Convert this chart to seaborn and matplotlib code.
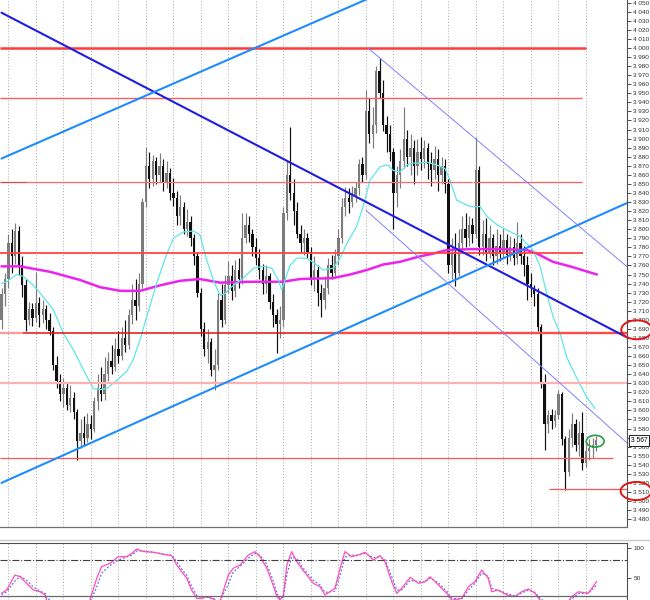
import pandas as pd
import seaborn as sns
import matplotlib.pyplot as plt
from matplotlib.patches import Ellipse
from matplotlib.lines import Line2D

# ---- OHLC bars (bar index 0..173) ----
opens = [3700, 3728, 3745, 3785, 3770, 3798, 3760, 3738, 3700, 3712,
         3702, 3718, 3705, 3712, 3700, 3688, 3650, 3632, 3618, 3625,
         3606, 3614, 3598, 3566, 3575, 3570, 3585, 3580, 3610, 3625,
         3618, 3640, 3655, 3648, 3668, 3660, 3680, 3672, 3705, 3722,
         3715, 3740, 3830, 3870, 3855, 3875, 3860, 3870, 3852, 3862,
         3840, 3835, 3815, 3825, 3800, 3808, 3790, 3770, 3730, 3690,
         3668, 3675, 3645, 3650, 3722, 3700, 3738, 3748, 3732, 3755,
         3745, 3790, 3805, 3795, 3780, 3768, 3755, 3740, 3748, 3720,
         3705, 3695, 3700, 3818, 3860, 3840, 3820, 3795, 3785, 3790,
         3775, 3745, 3755, 3730, 3722, 3735, 3760, 3752, 3770, 3790,
         3825, 3835, 3830, 3838, 3845, 3872, 3860, 3930, 3905, 3915,
         3975, 3950, 3915, 3905, 3885, 3840, 3860, 3875, 3900, 3880,
         3890, 3870, 3885, 3878, 3890, 3872, 3865, 3878, 3860, 3870,
         3850, 3760, 3775, 3752, 3785, 3800, 3790, 3805, 3795, 3865,
         3780, 3795, 3775, 3790, 3770, 3782, 3775, 3788, 3772, 3780,
         3768, 3785, 3770, 3760, 3740, 3735, 3728, 3692, 3630, 3585,
         3595, 3588, 3595, 3618, 3568, 3532, 3570, 3585, 3562, 3575,
         3542, 3555, 3558, 3562]
closes = [3728, 3745, 3785, 3770, 3798, 3760, 3738, 3700, 3712, 3702,
          3718, 3705, 3712, 3700, 3688, 3650, 3632, 3618, 3625, 3606,
          3614, 3598, 3566, 3575, 3570, 3585, 3580, 3610, 3625, 3618,
          3640, 3655, 3648, 3668, 3660, 3680, 3672, 3705, 3722, 3715,
          3740, 3830, 3870, 3855, 3875, 3860, 3870, 3852, 3862, 3840,
          3835, 3815, 3825, 3800, 3808, 3790, 3770, 3730, 3690, 3668,
          3675, 3645, 3650, 3722, 3700, 3738, 3748, 3732, 3755, 3745,
          3790, 3805, 3795, 3780, 3768, 3755, 3740, 3748, 3720, 3705,
          3695, 3700, 3818, 3860, 3840, 3820, 3795, 3785, 3790, 3775,
          3745, 3755, 3730, 3722, 3735, 3760, 3752, 3770, 3790, 3825,
          3835, 3830, 3838, 3845, 3872, 3860, 3930, 3905, 3915, 3975,
          3950, 3915, 3905, 3885, 3840, 3860, 3875, 3900, 3880, 3890,
          3870, 3885, 3878, 3890, 3872, 3865, 3878, 3860, 3870, 3850,
          3760, 3775, 3752, 3785, 3800, 3790, 3805, 3795, 3865, 3780,
          3795, 3775, 3790, 3770, 3782, 3775, 3788, 3772, 3780, 3768,
          3785, 3770, 3760, 3740, 3735, 3728, 3692, 3630, 3585, 3595,
          3588, 3595, 3618, 3568, 3532, 3570, 3585, 3562, 3575, 3542,
          3555, 3558, 3562, 3567]
highs = [3735, 3752, 3795, 3800, 3807, 3804, 3770, 3745, 3720, 3718,
         3753, 3725, 3722, 3716, 3708, 3692, 3660, 3640, 3636, 3630,
         3628, 3620, 3602, 3590, 3594, 3597, 3595, 3615, 3640, 3648,
         3659, 3665, 3672, 3680, 3688, 3692, 3700, 3712, 3740, 3745,
         3752, 3835, 3891, 3885, 3882, 3880, 3884, 3878, 3875, 3868,
         3856, 3842, 3838, 3830, 3822, 3815, 3795, 3775, 3735, 3698,
         3690, 3680, 3668, 3730, 3740, 3750, 3765, 3760, 3766, 3768,
         3818, 3818, 3815, 3800, 3790, 3778, 3762, 3760, 3752, 3728,
         3712, 3715, 3825, 3875, 3913, 3855, 3830, 3805, 3800, 3796,
         3780, 3770, 3760, 3740, 3748, 3768, 3772, 3778, 3800, 3835,
         3847, 3845, 3848, 3852, 3878, 3880, 3954, 3945, 3935, 3980,
         3989, 3965, 3925, 3915, 3890, 3870, 3888, 3935, 3910, 3905,
         3898, 3900, 3902, 3898, 3895, 3885, 3892, 3888, 3880, 3878,
         3855, 3790, 3796, 3800, 3815, 3818, 3815, 3812, 3902, 3870,
         3810, 3812, 3805, 3795, 3800, 3795, 3800, 3795, 3792, 3790,
         3808, 3795, 3782, 3770, 3752, 3738, 3735, 3695, 3640, 3600,
         3602, 3600, 3623, 3620, 3572, 3580, 3597, 3590, 3588, 3598,
         3565, 3568, 3570, 3572]
lows = [3690, 3715, 3735, 3752, 3762, 3750, 3725, 3688, 3694, 3693,
        3698, 3692, 3696, 3690, 3683, 3645, 3625, 3610, 3604, 3600,
        3598, 3590, 3545, 3558, 3562, 3565, 3568, 3576, 3600, 3610,
        3612, 3632, 3640, 3644, 3652, 3656, 3665, 3668, 3695, 3700,
        3710, 3735, 3825, 3845, 3848, 3850, 3852, 3842, 3845, 3832,
        3826, 3805, 3805, 3795, 3792, 3782, 3760, 3725, 3682, 3660,
        3652, 3638, 3622, 3645, 3692, 3695, 3730, 3722, 3725, 3735,
        3740, 3785, 3786, 3770, 3760, 3745, 3728, 3730, 3712, 3692,
        3663, 3680, 3692, 3810, 3832, 3805, 3790, 3775, 3772, 3768,
        3738, 3732, 3715, 3703, 3712, 3728, 3745, 3748, 3760, 3785,
        3815, 3818, 3825, 3830, 3838, 3852, 3855, 3895, 3890, 3906,
        3945, 3908, 3885, 3875, 3800, 3825, 3845, 3868, 3870, 3860,
        3850, 3860, 3865, 3868, 3855, 3848, 3855, 3842, 3850, 3840,
        3752, 3745, 3737, 3748, 3778, 3780, 3782, 3785, 3790, 3772,
        3772, 3765, 3768, 3760, 3762, 3765, 3768, 3762, 3765, 3760,
        3762, 3762, 3748, 3722, 3725, 3715, 3688, 3625, 3556, 3575,
        3580, 3582, 3590, 3562, 3512, 3528, 3560, 3555, 3550, 3534,
        3538, 3545, 3548, 3555]

# ---- moving averages (bar index, price) ----
fast_ma_x = [0, 1.5, 4.4, 6.3, 9.3, 12.2, 15.1, 18, 20.9, 23.8, 26.7, 28.7, 30.6,
             33.5, 36.4, 38.3, 40.3, 42.2, 45.1, 48.1, 50, 52.9, 55.8, 57.7, 59.7,
             61.6, 63.6, 65, 67.4, 70.3, 73.3, 76.2, 78.6, 80.5, 81.5, 82.5, 83.9,
             85.9, 88.8, 91.2, 93.6, 96.5, 98.5, 100.4, 103.3, 105.2, 107.2, 110.1,
             112.4, 113.9, 115.9, 118, 119.7, 121.7, 123.7, 126.6, 129, 130.5, 132.4,
             136.3, 139.2, 141.2, 144.1, 147, 150.8, 154.6, 156.7, 158.6, 160.5,
             162.5, 164.4, 167.3, 170.2, 172.7]
fast_ma_y = [3740, 3742, 3750, 3748, 3738, 3725, 3711, 3685, 3667, 3645, 3624, 3623,
             3624, 3633, 3643, 3656, 3678, 3703, 3740, 3773, 3790, 3797, 3798, 3794,
             3766, 3744, 3727, 3729, 3738, 3746, 3757, 3759, 3757, 3744, 3733, 3744,
             3760, 3768, 3768, 3762, 3755, 3757, 3768, 3784, 3803, 3825, 3854, 3869,
             3871, 3865, 3863, 3871, 3873, 3873, 3874, 3871, 3867, 3854, 3832, 3825,
             3825, 3814, 3805, 3799, 3792, 3777, 3759, 3729, 3703, 3685, 3659, 3636,
             3615, 3602]
slow_ma_x = [0, 5.4, 14.1, 22.8, 28.7, 34.5, 40.3, 46.1, 51.9, 57.7, 63.6, 72.3,
             81.9, 86.8, 96.4, 101.4, 106.3, 111, 115.9, 121.7, 125.5, 129.6, 136.3,
             145.9, 152.9, 155.8, 160.4, 165.4, 173.2]
slow_ma_y = [3759, 3759, 3753, 3744, 3736, 3732, 3732, 3738, 3743, 3745, 3741, 3742,
             3742, 3745, 3746, 3750, 3755, 3761, 3764, 3770, 3773, 3777, 3778, 3778,
             3777, 3773, 3764, 3759, 3750]

# ---- stochastic (%K solid, %D dotted) ----
stoch_x = [0, 1.5, 3.9, 5.4, 7.3, 9.3, 11.2, 12.7, 13.1, 15.6,
           22.8, 25.7, 27.7, 29.1, 31.6, 34, 36.4, 37.9, 39.3, 41.3,
           44.2, 47.1, 49.5, 51, 52.4, 53.9, 55.3, 56.8, 58.2, 59.7,
           61.6, 63.4, 66, 67.4, 69.4, 71.8, 73.7, 75.2, 77.2, 79,
           80.1, 81, 82, 83, 84.4, 85.9, 87.3, 88.8, 90.7, 92.7,
           94.1, 97, 98.5, 99.9, 101.9, 103.8, 105.8, 108.2, 110.1, 111.6,
           113.5, 115, 116.4, 118.9, 121.3, 123.2, 124.7, 127.1, 129.5, 131,
           133.9, 135.8, 137.7, 139.7, 141.6, 142.6, 144.5, 147, 149.4, 151.3,
           153.3, 155.2, 156.7, 159.2, 164.1, 165.9, 167.8, 170.7, 173.1]
stoch_k = [24.4, 30, 55, 52, 41, 30, 27, 21.7, 13, 5,
           5, 13, 49.5, 69, 74.5, 85.5, 85.5, 91, 98.3, 94,
           92.8, 89.4, 87.2, 71.7, 60.5, 49.4, 30, 16, 16, 19,
           15, 8, 55, 66, 71.7, 88.3, 93.9, 85.5, 66, 38.3,
           19, 13, 21.7, 71.7, 93.9, 77, 66, 55, 41, 35.5,
           21.7, 32.8, 66, 93.9, 85.5, 88.3, 92.8, 80, 87.2, 77,
           44, 24.4, 32.8, 51, 41, 44, 52, 38.3, 24.4, 13,
           16, 35.5, 44, 63.3, 49.5, 27, 30, 21.7, 19, 27,
           31.7, 24.4, 13, 5, 5, 19, 27, 24.4, 44]
stoch_d = [22, 27, 45, 53, 46, 35, 28, 24, 17, 8,
           5, 9, 35, 58, 71, 80, 85, 88, 95, 95,
           93, 90, 88, 77, 65, 54, 36, 21, 17, 18,
           16, 10, 40, 60, 69, 83, 91, 88, 72, 46,
           25, 15, 18, 55, 85, 82, 70, 59, 46, 38,
           26, 28, 55, 85, 88, 88, 91, 84, 85, 80,
           52, 30, 30, 46, 44, 43, 50, 42, 28, 16,
           15, 30, 41, 58, 53, 33, 29, 24, 20, 25,
           30, 26, 16, 6, 5, 15, 24, 25, 38]

# ---- drawn objects: trend lines (x0, p0, x1, p1) and price levels ----
trend_main = (0, 4039, 182, 3680.5)
trend_up_low = (0, 3520, 182, 3829)
trend_up_high = (0, 3878, 110, 4060)
channel_top = (106.6, 4000, 182, 3758.5)
channel_bottom = (106, 3821, 182, 3564)
level_prices = [4000, 3945, 3852, 3852, 3852, 3774, 3685, 3685, 3685, 3630, 3548, 3513]
level_from = [-0.5, -0.5, -0.5, 7.4, 137.2, -0.5, -0.5, 6.3, 94, -0.5, -0.5, 159.3]
level_to = [170.1, 169, 7.4, 137, 169, 169.2, 6.3, 182, 182, 182, 177.9, 182]
level_colors = ['#ff3b3b', '#ff5c5c', '#e04848', '#ff6a6a', '#ff5c5c', '#ff4545',
                '#ff9a9a', '#e01010', '#ff4a4a', '#ffb0b0', '#ff5555', '#ff5555']
level_widths = [1.8, 1.0, 0.9, 0.9, 0.9, 1.3, 1.6, 1.1, 1.7, 1.6, 0.9, 0.9]
last_price = 3567
grid_bars = list(range(2, 171, 8))

sns.set_style("white")
plt.rcParams['font.family'] = ['Liberation Sans', 'DejaVu Sans']

fig = plt.figure(figsize=(6.5, 6), dpi=100)
ax = fig.add_axes([0, 1 - 527 / 600, 627 / 650, 527 / 600])
ax2 = fig.add_axes([0, 0, 627 / 650, 57 / 600])
xlim = (-0.44, 181.96)

# candles: grey = up bar, black = down bar
for i in range(len(closes)):
    o, c = opens[i], closes[i]
    col = '#7c7c7c' if c >= o else '#101010'
    ax.vlines(i, lows[i], highs[i], color=col, lw=0.85, zorder=2)
    h = c - o if abs(c - o) > 1 else 1.5
    ax.bar(i, h, bottom=o, width=0.68, color=col, lw=0, zorder=2)

df_fast = pd.DataFrame({'bar': fast_ma_x, 'price': fast_ma_y})
df_slow = pd.DataFrame({'bar': slow_ma_x, 'price': slow_ma_y})
sns.lineplot(data=df_slow, x='bar', y='price', ax=ax, color='#ee22ee', lw=1.8, zorder=3)
sns.lineplot(data=df_fast, x='bar', y='price', ax=ax, color='#5ee6ea', lw=0.9, zorder=3)

for p, a, b, c, w in zip(level_prices, level_from, level_to, level_colors, level_widths):
    ax.plot([a, b], [p, p], color=c, lw=w, zorder=4, solid_capstyle='butt')

for (x0, p0, x1, p1), c, w in [(trend_main, '#1e1ee0', 1.5),
                               (trend_up_low, '#1e8cff', 1.5),
                               (trend_up_high, '#1e8cff', 1.5),
                               (channel_top, '#8080ff', 0.7),
                               (channel_bottom, '#8080ff', 0.7)]:
    ax.plot([x0, x1], [p0, p1], color=c, lw=w, zorder=4)

ax.set_xlim(*xlim)
ax.set_ylim(3471.3, 4053)
ax.set_xticks(grid_bars)
ax.set_xticklabels([])
ax.tick_params(axis='x', length=0)
ax.grid(axis='x', color='#a8a8a8', lw=0.7, linestyle=(0, (1, 2)))
ax.grid(axis='y', visible=False)
ax.yaxis.tick_right()
ticks = list(range(3480, 4051, 10))
ax.set_yticks(ticks)
ax.set_yticklabels([f"{t:,}".replace(",", " ") for t in ticks])
ax.tick_params(axis='y', direction='out', length=3, width=0.6, colors='#303030',
               labelsize=4.6, pad=1.5)
ax.set_xlabel('')
ax.set_ylabel('')
for s in ['left', 'top']:
    ax.spines[s].set_visible(False)
ax.spines['right'].set_color('#505050')
ax.spines['right'].set_linewidth(0.8)
ax.spines['bottom'].set_color('#707070')
ax.spines['bottom'].set_linewidth(0.9)

# annotations on the price scale
ax.add_patch(Ellipse((184.8, 3689), 9, 21, fill=False, ec='#e01818', lw=1.4, clip_on=False, zorder=6))
ax.add_patch(Ellipse((184.6, 3511), 9, 20, fill=False, ec='#e01818', lw=1.4, clip_on=False, zorder=6))
ax.add_patch(Ellipse((172.7, 3566), 5.2, 13, fill=False, ec='#22a040', lw=1.2, zorder=6))
ax.text(183.0, last_price, f"{last_price:,}".replace(",", " "), fontsize=4.8, va='center',
        ha='left', color='black', clip_on=False, zorder=7,
        bbox=dict(boxstyle='square,pad=0.3', fc='white', ec='black', lw=0.6))

# stochastic panel
df_k = pd.DataFrame({'bar': stoch_x, 'k': stoch_k, 'd': stoch_d})
sns.lineplot(data=df_k, x='bar', y='d', ax=ax2, color='#6a6aff', lw=0.9, linestyle=(0, (1.5, 1.5)))
sns.lineplot(data=df_k, x='bar', y='k', ax=ax2, color='#ff4fb4', lw=0.9)
ax2.axhline(80, color='#404040', lw=0.8, linestyle='-.')
ax2.axhline(20, color='#6a6a6a', lw=0.9)
ax2.set_xlim(*xlim)
ax2.set_ylim(13.3, 108.3)
ax2.set_xticks(grid_bars)
ax2.set_xticklabels([])
ax2.tick_params(axis='x', length=0)
ax2.grid(axis='x', color='#a8a8a8', lw=0.7, linestyle=(0, (1, 2)))
ax2.yaxis.tick_right()
ax2.set_yticks([50, 100])
ax2.tick_params(axis='y', direction='out', length=3, width=0.6, colors='#303030',
                labelsize=4.6, pad=1.5)
ax2.set_xlabel('')
ax2.set_ylabel('')
for s in ['left', 'bottom']:
    ax2.spines[s].set_visible(False)
for s in ['top', 'right']:
    ax2.spines[s].set_color('#505050')
    ax2.spines[s].set_linewidth(0.8)

fig.add_artist(Line2D([0, 1], [1 - 539.5 / 600] * 2, color='#c8c8c8', lw=1.0))

fig.savefig('out.png', dpi=100)
